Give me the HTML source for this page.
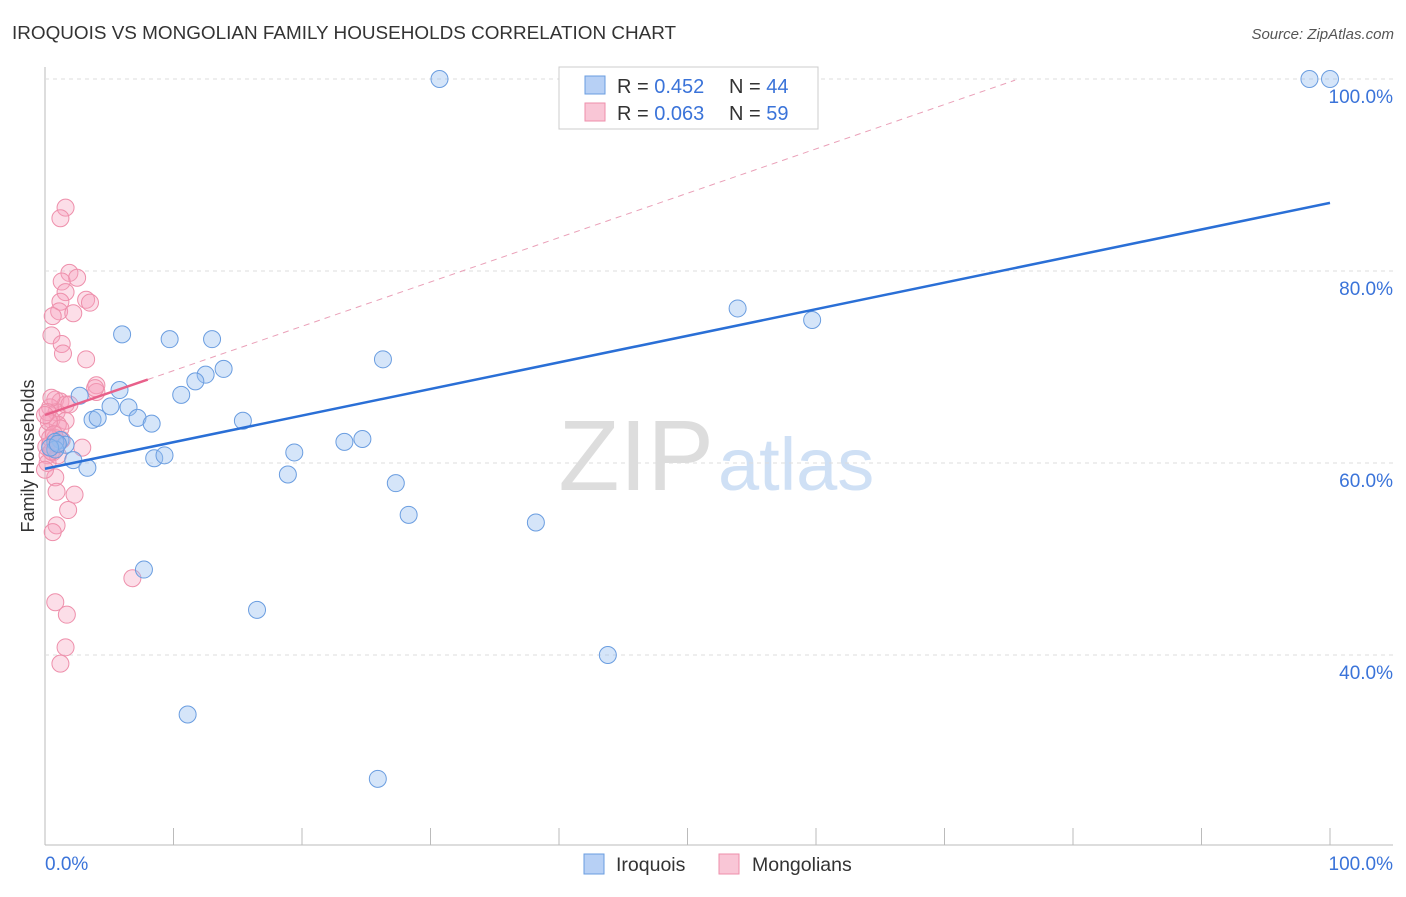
<!DOCTYPE html>
<html><head><meta charset="utf-8"><style>
body{margin:0;background:#fff;font-family:"Liberation Sans",sans-serif}
svg text{font-family:"Liberation Sans",sans-serif}
</style></head><body>
<svg id="c" width="1406" height="892">
<text x="12" y="39" font-size="18.9" fill="#333">IROQUOIS VS MONGOLIAN FAMILY HOUSEHOLDS CORRELATION CHART</text>
<text x="1394" y="39" font-size="15" fill="#555" font-style="italic" text-anchor="end">Source: ZipAtlas.com</text>
<text x="714" y="490" font-size="100" fill="#ddd" text-anchor="end" font-family="Liberation Serif">ZIP</text>
<text x="718" y="490" font-size="74" fill="#cfe0f5">atlas</text>
<text x="34" y="456" font-size="18" fill="#333" text-anchor="middle" transform="rotate(-90 34 456)">Family Households</text>
<g id="grid"></g><g id="pts"></g><g id="lines"></g>
<g>
<rect x="559" y="67" width="259" height="62" fill="#fff" stroke="#ccc"/>
<rect x="585" y="76" width="20" height="18" fill="#b7d0f5" stroke="#6a9de0"/>
<rect x="585" y="103" width="20" height="18" fill="#f9c6d6" stroke="#ee8fab"/>
<text x="617" y="93" font-size="20" fill="#333">R = <tspan fill="#3a73d9">0.452</tspan></text>
<text x="729" y="93" font-size="20" fill="#333">N = <tspan fill="#3a73d9">44</tspan></text>
<text x="617" y="120" font-size="20" fill="#333">R = <tspan fill="#3a73d9">0.063</tspan></text>
<text x="729" y="120" font-size="20" fill="#333">N = <tspan fill="#3a73d9">59</tspan></text>
</g>
<g>
<rect x="584" y="854" width="20" height="20" fill="#b7d0f5" stroke="#6a9de0"/>
<text x="616" y="871" font-size="19.5" fill="#333">Iroquois</text>
<rect x="719" y="854" width="20" height="20" fill="#f9c6d6" stroke="#ee8fab"/>
<text x="752" y="871" font-size="19.5" fill="#333">Mongolians</text>
</g>
</svg>
<script>
const blueX=[30.7,98.4,100,6.0,9.7,13.0,53.9,59.7,26.3,13.9,12.5,11.7,10.6,5.8,2.7,5.1,6.5,7.2,8.3,3.7,4.1,15.4,1.2,1.6,0.8,23.3,24.7,19.4,8.5,9.3,2.2,3.3,18.9,27.3,28.3,38.2,7.7,16.5,43.8,11.1,25.9,0.8,0.4,1.0];
const blueY=[100,100,100,73.4,72.9,72.9,76.1,74.9,70.8,69.8,69.2,68.5,67.1,67.6,67.0,65.9,65.8,64.7,64.1,64.5,64.7,64.4,62.4,61.9,62.2,62.2,62.5,61.1,60.5,60.8,60.3,59.5,58.8,57.9,54.6,53.8,48.9,44.7,40.0,33.8,27.1,61.4,61.6,62.0];
const pinkX=[1.6,1.2,1.9,2.5,1.3,1.6,3.2,3.5,1.2,1.1,2.2,0.6,0.5,1.3,1.4,3.2,4.0,4.0,0.8,1.2,1.6,0.4,0.9,1.6,0.5,1.0,0.2,0.8,0.4,2.9,0.6,0.2,0.2,0.8,0.9,2.3,1.8,0.9,0.6,6.8,0.8,1.7,1.6,1.2,0.5,1.2,0.2,1.9,1.3,0.9,0.1,0.4,3.9,0.3,0,1.0,0,0.5,0.7];
const pinkY=[86.6,85.5,79.8,79.3,78.9,77.8,77.0,76.7,76.8,75.8,75.6,75.3,73.3,72.4,71.4,70.8,68.1,67.4,66.6,66.4,66.1,65.8,65.3,64.4,64.5,64.0,63.2,62.6,61.9,61.6,61.1,60.8,60.0,58.5,57.0,56.7,55.1,53.5,52.8,48.0,45.5,44.2,40.8,39.1,66.8,63.6,65.3,66.1,62.4,61.9,61.7,62.6,67.8,64.3,59.3,60.8,65.0,61.2,63.0];
const yTicks=[100,80,60,40];
const blueTrend=[59.4,87.1]; // y at x=0 and x=100
const pinkTrend=[65.0,0.462,8,75.5]; // intercept, slope, solid end, dashed end
const X=v=>45+v*12.85, Y=v=>79+(100-v)*9.6;
const NS="http://www.w3.org/2000/svg";
function mk(t,a,p){const e=document.createElementNS(NS,t);for(const k in a)e.setAttribute(k,a[k]);p.appendChild(e);return e;}
const g=document.getElementById('grid');
const ax=mk('line',{x1:45,y1:67,x2:45,y2:845,stroke:'#bbb'},g);


const bx=mk('line',{x1:45,y1:845,x2:1393,y2:845,stroke:'#bbb'},g);


for(let i=1;i<=10;i++){const t=mk('line',{x1:X(i*10),y1:828,x2:X(i*10),y2:845,stroke:'#bbb'},g);

}
yTicks.forEach(v=>{const l=mk('line',{x1:45,y1:Y(v),x2:1393,y2:Y(v),stroke:'#ddd','stroke-dasharray':'4,4'},g);


const t=mk('text',{x:1393,y:Y(v)+24,'font-size':19,fill:'#3a73d9','text-anchor':'end'},g);t.textContent=v.toFixed(1)+'%';

});
[[0,'start',45],[100,'end',1393]].forEach(([v,a,x])=>{const t=mk('text',{x:x,y:870,'font-size':19,fill:'#3a73d9','text-anchor':a},g);t.textContent=v.toFixed(1)+'%';

});
const p=document.getElementById('pts');
pinkX.forEach((v,i)=>{const c=mk('circle',{cx:X(v),cy:Y(pinkY[i]),r:8.5,fill:'rgba(245,160,190,0.35)',stroke:'#ee8fab','stroke-width':1},p);

});
blueX.forEach((v,i)=>{const c=mk('circle',{cx:X(v),cy:Y(blueY[i]),r:8.5,fill:'rgba(150,190,240,0.4)',stroke:'#6a9de0','stroke-width':1},p);

});
const L=document.getElementById('lines');
const b=mk('line',{x1:X(0),y1:Y(blueTrend[0]),x2:X(100),y2:Y(blueTrend[1]),stroke:'#2a6fd6','stroke-width':2.5},L);


const pf=x=>pinkTrend[0]+pinkTrend[1]*x;
const pd=mk('line',{x1:X(pinkTrend[2]),y1:Y(pf(pinkTrend[2])),x2:X(pinkTrend[3]),y2:Y(pf(pinkTrend[3])),stroke:'#eaa0b8','stroke-width':1,'stroke-dasharray':'6,5'},L);


const ps=mk('line',{x1:X(0),y1:Y(pf(0)),x2:X(pinkTrend[2]),y2:Y(pf(pinkTrend[2])),stroke:'#e8608a','stroke-width':2.5},L);


</script>
</body></html>
